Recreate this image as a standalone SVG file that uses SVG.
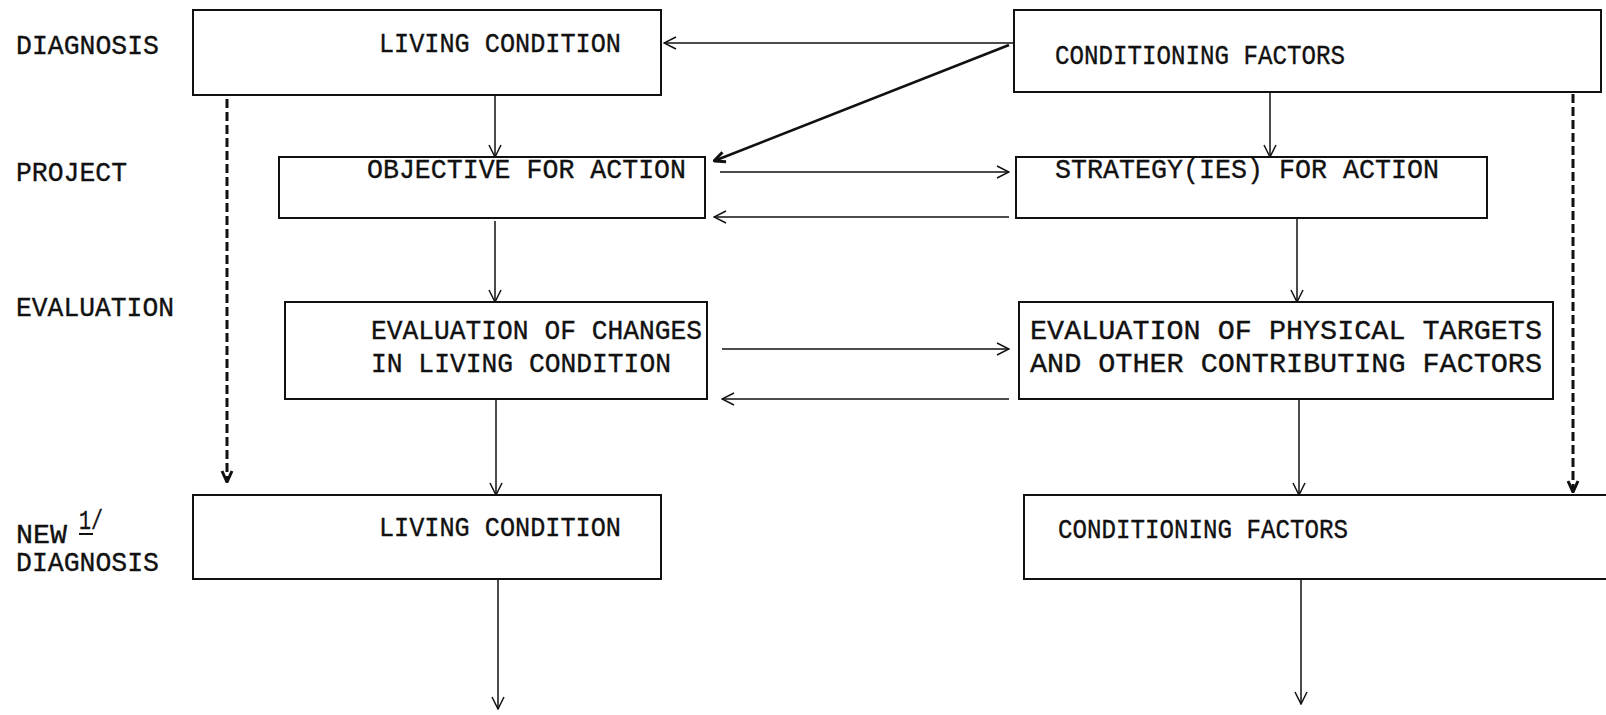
<svg xmlns="http://www.w3.org/2000/svg" width="1606" height="715" viewBox="0 0 1606 715">
<style>
.t{font-family:"Liberation Mono","Courier New",monospace;font-size:27px;fill:#111;stroke:#111;stroke-width:0.35px}
.box{fill:none;stroke:#111;stroke-width:2}
.c{fill:none;stroke:#111;stroke-width:1.5}
.d{fill:none;stroke:#111;stroke-width:3;stroke-dasharray:9 4}
</style>
<defs>
<marker id="ah" viewBox="0 0 14 14" refX="13" refY="7" markerWidth="14" markerHeight="14" orient="auto" markerUnits="userSpaceOnUse"><path d="M1,1 L13,7 L1,13" fill="none" stroke="#111" stroke-width="1.5"/></marker>
<marker id="ahb" viewBox="0 0 14 14" refX="13" refY="7" markerWidth="14" markerHeight="14" orient="auto" markerUnits="userSpaceOnUse"><path d="M2,2 L13,7 L2,12" fill="none" stroke="#111" stroke-width="3"/></marker>
</defs>
<g id="labels">
<text class="t" x="16" y="54" textLength="143" lengthAdjust="spacingAndGlyphs">DIAGNOSIS</text>
<text class="t" x="16" y="181" textLength="111" lengthAdjust="spacingAndGlyphs">PROJECT</text>
<text class="t" x="16" y="316" textLength="158" lengthAdjust="spacingAndGlyphs">EVALUATION</text>
<text class="t" x="16" y="543" textLength="51" lengthAdjust="spacingAndGlyphs">NEW</text>
<text class="t" x="79" y="529" textLength="24" lengthAdjust="spacingAndGlyphs">1/</text>
<line x1="79" y1="534" x2="93" y2="534" stroke="#111" stroke-width="2"/>
<text class="t" x="16" y="571" textLength="143" lengthAdjust="spacingAndGlyphs">DIAGNOSIS</text>
</g>
<g id="lc1"><rect class="box" x="193" y="10" width="468" height="85"/><text class="t" x="379" y="52" textLength="242" lengthAdjust="spacingAndGlyphs">LIVING CONDITION</text></g>
<g id="cf1"><rect class="box" x="1014" y="10" width="587" height="82"/><text class="t" x="1055" y="64" textLength="290" lengthAdjust="spacingAndGlyphs">CONDITIONING FACTORS</text></g>
<g id="obj"><rect class="box" x="279" y="157" width="426" height="61"/><text class="t" x="367" y="178" textLength="319" lengthAdjust="spacingAndGlyphs">OBJECTIVE FOR ACTION</text></g>
<g id="strat"><rect class="box" x="1016" y="157" width="471" height="61"/><text class="t" x="1055" y="178" textLength="384" lengthAdjust="spacingAndGlyphs">STRATEGY(IES) FOR ACTION</text></g>
<g id="eval1"><rect class="box" x="285" y="302" width="422" height="97"/><text class="t" x="371" y="339" textLength="331" lengthAdjust="spacingAndGlyphs">EVALUATION OF CHANGES</text><text class="t" x="371" y="372" textLength="300" lengthAdjust="spacingAndGlyphs">IN LIVING CONDITION</text></g>
<g id="eval2"><rect class="box" x="1019" y="302" width="534" height="97"/><text class="t" x="1030" y="339" textLength="512" lengthAdjust="spacingAndGlyphs">EVALUATION OF PHYSICAL TARGETS</text><text class="t" x="1030" y="372" textLength="512" lengthAdjust="spacingAndGlyphs">AND OTHER CONTRIBUTING FACTORS</text></g>
<g id="lc2"><rect class="box" x="193" y="495" width="468" height="84"/><text class="t" x="379" y="536" textLength="242" lengthAdjust="spacingAndGlyphs">LIVING CONDITION</text></g>
<g id="cf2"><rect class="box" x="1024" y="495" width="590" height="84"/><text class="t" x="1058" y="538" textLength="290" lengthAdjust="spacingAndGlyphs">CONDITIONING FACTORS</text></g>
<g id="connectors">
<line class="c" x1="1014" y1="43" x2="664" y2="43" marker-end="url(#ah)"/>
<line class="c" x1="1009" y1="45" x2="714" y2="161" style="stroke-width:2.6" marker-end="url(#ahb)"/>
<line class="c" x1="495" y1="95" x2="495" y2="157" marker-end="url(#ah)"/>
<line class="c" x1="1270" y1="92" x2="1270" y2="157" marker-end="url(#ah)"/>
<line class="c" x1="720" y1="172" x2="1009" y2="172" marker-end="url(#ah)"/>
<line class="c" x1="1009" y1="217" x2="714" y2="217" marker-end="url(#ah)"/>
<line class="c" x1="495" y1="221" x2="495" y2="302" marker-end="url(#ah)"/>
<line class="c" x1="1297" y1="218" x2="1297" y2="302" marker-end="url(#ah)"/>
<line class="c" x1="722" y1="349" x2="1009" y2="349" marker-end="url(#ah)"/>
<line class="c" x1="1009" y1="399" x2="722" y2="399" marker-end="url(#ah)"/>
<line class="c" x1="496" y1="399" x2="496" y2="495" marker-end="url(#ah)"/>
<line class="c" x1="1299" y1="399" x2="1299" y2="495" marker-end="url(#ah)"/>
<line class="c" x1="498" y1="579" x2="498" y2="709" marker-end="url(#ah)"/>
<line class="c" x1="1301" y1="579" x2="1301" y2="704" marker-end="url(#ah)"/>
<line class="d" x1="227" y1="99" x2="227" y2="482" marker-end="url(#ahb)"/>
<line class="d" x1="1573" y1="94" x2="1573" y2="492" marker-end="url(#ahb)"/>
</g>
</svg>
